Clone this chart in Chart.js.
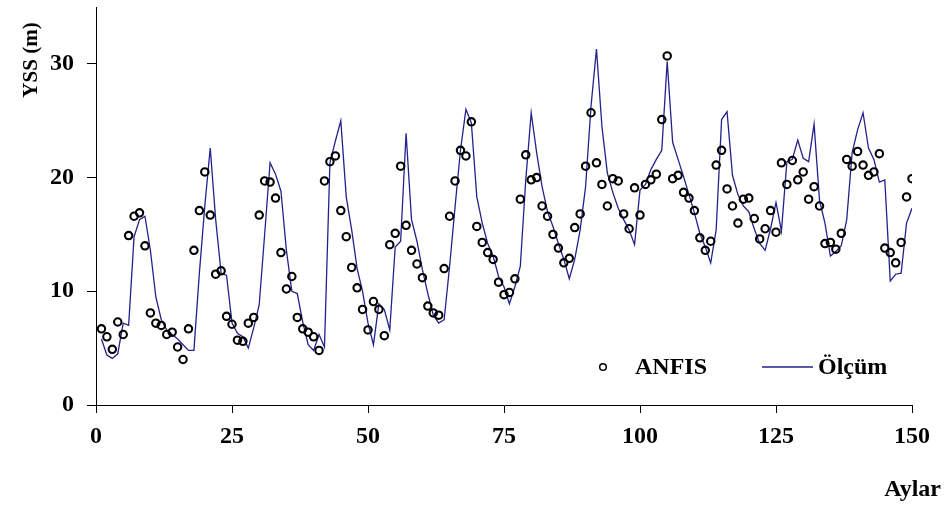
<!DOCTYPE html>
<html>
<head>
<meta charset="utf-8">
<title>YSS</title>
<script src="https://cdn.jsdelivr.net/npm/chart.js@4/dist/chart.umd.min.js"></script>
<style>
  html, body { margin: 0; padding: 0; background: #fff; }
  canvas { display: block; }
</style>
</head>
<body>
<canvas id="myChart" width="945" height="507"></canvas>
<script>
// months 1..150
const months = Array.from({ length: 150 }, (_, i) => i + 1);

const anfis = [
  6.7, 6.0, 4.9, 7.3, 6.2, 14.9, 16.6, 16.9, 14.0, 8.1,
  7.2, 7.0, 6.2, 6.4, 5.1, 4.0, 6.7, 13.6, 17.1, 20.5,
  16.7, 11.5, 11.8, 7.8, 7.1, 5.7, 5.6, 7.2, 7.7, 16.7,
  19.7, 19.6, 18.2, 13.4, 10.2, 11.3, 7.7, 6.7, 6.4, 6.0,
  4.8, 19.7, 21.4, 21.9, 17.1, 14.8, 12.1, 10.3, 8.4, 6.6,
  9.1, 8.4, 6.1, 14.1, 15.1, 21.0, 15.8, 13.6, 12.4, 11.2,
  8.7, 8.1, 7.9, 12.0, 16.6, 19.7, 22.4, 21.9, 24.9, 15.7,
  14.3, 13.4, 12.8, 10.8, 9.7, 9.9, 11.1, 18.1, 22.0, 19.8,
  20.0, 17.5, 16.6, 15.0, 13.8, 12.5, 12.9, 15.6, 16.8, 21.0,
  25.7, 21.3, 19.4, 17.5, 19.9, 19.7, 16.8, 15.5, 19.1, 16.7,
  19.4, 19.8, 20.3, 25.1, 30.7, 19.9, 20.2, 18.7, 18.2, 17.1,
  14.7, 13.6, 14.4, 21.1, 22.4, 19.0, 17.5, 16.0, 18.1, 18.2,
  16.4, 14.6, 15.5, 17.1, 15.2, 21.3, 19.4, 21.5, 19.8, 20.5,
  18.1, 19.2, 17.5, 14.2, 14.3, 13.7, 15.1, 21.6, 21.0, 22.3,
  21.1, 20.2, 20.5, 22.1, 13.8, 13.4, 12.5, 14.3, 18.3, 19.9
];

const olcum = [
  5.8, 4.4, 4.1, 4.5, 7.2, 7.0, 14.8, 16.3, 16.6, 13.6,
  9.5, 7.5, 6.6, 6.2, 5.8, 5.3, 4.8, 4.8, 11.6, 17.5,
  22.6, 16.3, 11.6, 11.4, 7.2, 6.3, 6.0, 5.0, 6.8, 8.8,
  15.0, 21.3, 20.3, 18.8, 13.6, 10.0, 9.8, 7.3, 5.3, 4.8,
  6.2, 5.1, 21.3, 23.2, 25.0, 18.3, 15.4, 12.0, 10.0, 7.2,
  5.3, 8.9, 8.4, 6.6, 13.9, 14.4, 23.9, 16.3, 14.4, 11.9,
  9.8, 7.9, 7.2, 7.5, 12.2, 17.4, 22.4, 26.0, 24.8, 18.3,
  16.0, 14.2, 13.1, 11.3, 10.4, 8.9, 10.4, 12.2, 19.8, 25.7,
  22.2, 19.2, 17.0, 15.7, 14.2, 12.8, 11.1, 12.8, 15.4, 19.2,
  26.3, 31.3, 24.5, 20.4, 18.7, 17.3, 16.3, 15.4, 14.1, 18.9,
  19.4, 20.7, 21.6, 22.4, 30.2, 23.1, 21.6, 20.1, 18.5, 16.9,
  15.1, 13.9, 12.5, 15.4, 25.1, 25.8, 20.2, 18.5, 17.5, 17.0,
  15.5, 14.2, 13.6, 15.5, 17.8, 15.3, 21.4, 21.6, 23.3, 21.7,
  21.4, 24.7, 18.0, 16.0, 13.1, 13.5, 14.0, 16.3, 22.2, 24.2,
  25.7, 22.6, 21.6, 19.6, 19.8, 10.9, 11.5, 11.6, 16.0, 17.3
];

const seriesNames = ['ANFIS', 'Ölçüm'];
const xTitle = 'Aylar';
const yTitle = 'YSS (m)';

const serif = "'Liberation Serif', 'Times New Roman', serif";
const lineColor = '#22228c';

const toPoints = vals => vals.map((v, i) => ({ x: months[i], y: v }));

// axis titles and the little legend inside the plot
const extraText = {
  id: 'extraText',
  afterDraw(chart) {
    const ctx = chart.ctx;
    ctx.save();
    ctx.fillStyle = '#000';

    ctx.font = 'bold 21px ' + serif;
    ctx.translate(37, 60);
    ctx.rotate(-Math.PI / 2);
    ctx.textAlign = 'center';
    ctx.fillText(yTitle, 0, 0);
    ctx.setTransform(1, 0, 0, 1, 0, 0);

    ctx.font = 'bold 24px ' + serif;
    ctx.textAlign = 'right';
    ctx.fillText(xTitle, 941, 496);

    // legend
    ctx.textAlign = 'left';
    ctx.beginPath();
    ctx.arc(603, 367, 3.3, 0, Math.PI * 2);
    ctx.lineWidth = 1.5;
    ctx.strokeStyle = '#000';
    ctx.stroke();
    ctx.fillText(chart.data.datasets[0].label, 635, 374);

    ctx.beginPath();
    ctx.moveTo(762, 367);
    ctx.lineTo(813, 367);
    ctx.lineWidth = 1.3;
    ctx.strokeStyle = lineColor;
    ctx.stroke();
    ctx.fillText(chart.data.datasets[1].label, 818, 374);
    ctx.restore();
  }
};

// no extra room for edge labels, the padding below sets the plot box
const noEdgePad = s => {
  s.paddingTop = 0;
  s.paddingBottom = 0;
  s.paddingLeft = 0;
  s.paddingRight = 0;
};

const ctx = document.getElementById('myChart').getContext('2d');
let myChart = new Chart(ctx, {
  type: 'scatter',
  data: {
    datasets: [
      {
        label: seriesNames[0],
        data: toPoints(anfis),
        pointStyle: 'circle',
        pointRadius: 3.7,
        pointBorderWidth: 2.1,
        pointBorderColor: '#000',
        pointBackgroundColor: 'rgba(0,0,0,0)',
        showLine: false
      },
      {
        label: seriesNames[1],
        data: toPoints(olcum),
        showLine: true,
        borderColor: lineColor,
        borderWidth: 1.3,
        pointRadius: 0,
        tension: 0
      }
    ]
  },
  options: {
    responsive: false,
    animation: false,
    layout: { padding: { left: 0, top: 7, right: 33, bottom: 0 } },
    plugins: {
      legend: { display: false },
      tooltip: { enabled: false }
    },
    scales: {
      x: {
        type: 'linear',
        min: 0,
        max: 150,
        afterFit: s => { s.height = 102; noEdgePad(s); },
        ticks: {
          stepSize: 25,
          color: '#000',
          padding: 9,
          maxRotation: 0,
          font: { family: serif, size: 24, weight: 'bold' }
        },
        grid: { drawOnChartArea: false, tickLength: 8, color: '#000', lineWidth: 1 },
        border: { display: true, color: '#000', width: 1 }
      },
      y: {
        min: 0,
        max: 35,
        afterFit: s => { s.width = 96; noEdgePad(s); },
        ticks: {
          stepSize: 10,
          includeBounds: false,
          color: '#000',
          padding: 13,
          font: { family: serif, size: 24, weight: 'bold' }
        },
        grid: { drawOnChartArea: false, tickLength: 9, color: '#000', lineWidth: 1 },
        border: { display: true, color: '#000', width: 1 }
      }
    }
  },
  plugins: [extraText]
});
</script>
</body>
</html>
